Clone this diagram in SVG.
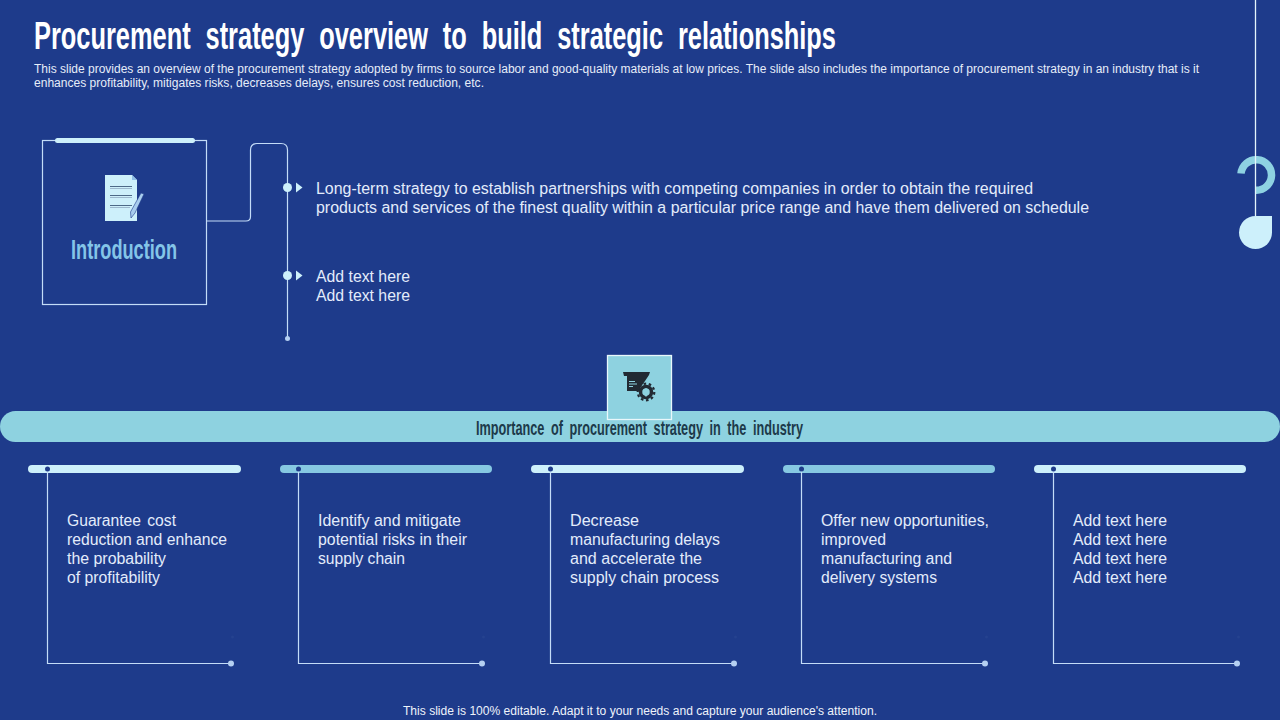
<svg xmlns="http://www.w3.org/2000/svg" width="1280" height="720" viewBox="0 0 1280 720">
<defs>
<style>
text{font-family:"Liberation Sans",Arial,sans-serif}
.cond{font-family:"Liberation Sans Narrow","Liberation Sans",Arial,sans-serif}
.b{font-size:16px;fill:#e3ecfb}
.s{font-size:12px;fill:#e6edf9}
.ln{fill:none;stroke:#c4dcf8;stroke-width:1.200}
.dot{fill:#b5d0f2}
.lt{fill:#cdf0fb}
.md{fill:#86c8e2}
.nk{fill:#1e3b8b}
.ic{fill:#222a33}
</style>
<g id="card-frame">
<path class="ln" d="M47.500 470V663.500H231"/>
<circle class="dot" cx="231" cy="663.500" r="3"/>
<circle cx="232.500" cy="637" r="1.500" fill="#25428f"/>
<circle class="nk" cx="47.500" cy="469" r="2.500"/>
</g>
</defs>
<rect width="1280" height="720" fill="#1e3b8b"/>
<text id="title" class="cond" x="34" y="49" font-size="39" font-weight="700" fill="#ffffff" word-spacing="12" textLength="802" lengthAdjust="spacingAndGlyphs">Procurement strategy overview to build strategic relationships</text>
<g id="subtitle">
<text class="s" x="34" y="73" textLength="1165" lengthAdjust="spacingAndGlyphs">This slide provides an overview of the procurement strategy adopted by firms to source labor and good-quality materials at low prices. The slide also includes the importance of procurement strategy in an industry that is it</text>
<text class="s" x="34" y="87" textLength="450" lengthAdjust="spacingAndGlyphs">enhances profitability, mitigates risks, decreases delays, ensures cost reduction, etc.</text>
</g>
<g id="decor">
<path d="M1241 173.500A15.300 15.300 0 1 1 1256 190.300" fill="none" stroke="#8ed2e2" stroke-width="7.500"/>
<line x1="1255.500" y1="0" x2="1255.500" y2="216" stroke="#e4f4fb" stroke-width="1.300"/>
<path class="lt" d="M1255.500 216H1272V232.500A16.500 16.500 0 1 1 1255.500 216Z"/>
</g>
<g id="connectors">
<path class="ln" d="M207 221H246Q250.500 221 250.500 216.500V150Q250.500 143.500 257 143.500H281Q287.500 143.500 287.500 150V338.500"/>
</g>
<g id="intro-node">
<rect x="42.500" y="140.500" width="164" height="164" fill="none" stroke="#c4dcf8" stroke-width="1.200"/>
<rect x="55" y="138" width="140" height="5" rx="2.500" class="lt"/>
<path class="lt" d="M105 175H132L137 180V221H105Z"/>
<path d="M132 175V180H137Z" fill="#8fbfe6"/>
<g stroke-width="1">
<g stroke="#4d6a88">
<line x1="110" y1="186.500" x2="132" y2="186.500"/>
<line x1="110" y1="195.500" x2="132" y2="195.500"/>
<line x1="110" y1="205.500" x2="132" y2="205.500"/>
</g>
<g stroke="#9db9cf">
<line x1="110" y1="188.500" x2="132" y2="188.500"/>
<line x1="110" y1="197.500" x2="132" y2="197.500"/>
<line x1="110" y1="207.500" x2="130" y2="207.500"/>
</g>
</g>
<path d="M144 194L135 213L131 218L130.500 212L141 193Z" fill="#a8cdee" stroke="#1e3b8b" stroke-width=".6"/>
<text class="cond" x="71" y="259" font-size="28" font-weight="700" fill="#84c5e8" textLength="106" lengthAdjust="spacingAndGlyphs">Introduction</text>
</g>
<g id="point-1">
<circle class="lt" cx="287.500" cy="187.500" r="4.500"/>
<path class="lt" d="M296 182.500L302.500 187.500L296 192.500Z"/>
<text class="b" x="316" y="194" textLength="717" lengthAdjust="spacingAndGlyphs">Long-term strategy to establish partnerships with competing companies in order to obtain the required</text>
<text class="b" x="316" y="213" textLength="773" lengthAdjust="spacingAndGlyphs">products and services of the finest quality within a particular price range and have them delivered on schedule</text>
</g>
<g id="point-2">
<circle class="lt" cx="287.500" cy="275.500" r="4.500"/>
<path class="lt" d="M296 270.500L302.500 275.500L296 280.500Z"/>
<text class="b" x="316" y="282" textLength="94" lengthAdjust="spacingAndGlyphs">Add text here</text>
<text class="b" x="316" y="301" textLength="94" lengthAdjust="spacingAndGlyphs">Add text here</text>
</g>
<circle class="dot" cx="287.500" cy="338.500" r="2.500"/>
<g id="importance-bar">
<rect x="0" y="411" width="1280" height="31" rx="15.500" fill="#8ed2e0"/>
<text class="cond" x="476" y="435" font-size="21" font-weight="700" fill="#1d3a4a" word-spacing="5" textLength="327" lengthAdjust="spacingAndGlyphs">Importance of procurement strategy in the industry</text>
</g>
<g id="importance-icon">
<rect x="607.500" y="355.500" width="64" height="64" fill="#8ed2e0" stroke="#e9f7fb" stroke-width="1.300"/>
<path class="ic" d="M623 372H650L649 375L645 381L640 388V391H627V376H624Z"/>
<g stroke="#8ed2e0" stroke-width="1"><line x1="629" y1="381.500" x2="635" y2="381.500"/><line x1="629" y1="384" x2="637" y2="384"/><line x1="629" y1="386.500" x2="633" y2="386.500"/></g>
<circle cx="646" cy="392" r="5.500" fill="none" stroke="#222a33" stroke-width="3.500"/>
<circle cx="646" cy="392" r="8.300" fill="none" stroke="#222a33" stroke-width="2.200" stroke-dasharray="2.600 2.600"/>
<path d="M646 388V396M644 393.500L646 396L648 393.500" fill="none" stroke="#8ed2e0" stroke-width="1.200"/>
</g>
<g id="card-1">
<rect x="28" y="465" width="213" height="8" rx="4" class="lt"/>
<use href="#card-frame"/>
<text class="b" x="67" y="526" word-spacing="2" textLength="109" lengthAdjust="spacingAndGlyphs">Guarantee cost</text>
<text class="b" x="67" y="545" textLength="160" lengthAdjust="spacingAndGlyphs">reduction and enhance</text>
<text class="b" x="67" y="564" textLength="99" lengthAdjust="spacingAndGlyphs">the probability</text>
<text class="b" x="67" y="583" textLength="93" lengthAdjust="spacingAndGlyphs">of profitability</text>
</g>
<g id="card-2">
<rect x="280" y="465" width="212" height="8" rx="4" class="md"/>
<use href="#card-frame" x="251"/>
<text class="b" x="318" y="526" textLength="143" lengthAdjust="spacingAndGlyphs">Identify and mitigate</text>
<text class="b" x="318" y="545" textLength="149" lengthAdjust="spacingAndGlyphs">potential risks in their</text>
<text class="b" x="318" y="564" textLength="87" lengthAdjust="spacingAndGlyphs">supply chain</text>
</g>
<g id="card-3">
<rect x="531" y="465" width="213" height="8" rx="4" class="lt"/>
<use href="#card-frame" x="503"/>
<text class="b" x="570" y="526" textLength="69" lengthAdjust="spacingAndGlyphs">Decrease</text>
<text class="b" x="570" y="545" textLength="150" lengthAdjust="spacingAndGlyphs">manufacturing delays</text>
<text class="b" x="570" y="564" textLength="132" lengthAdjust="spacingAndGlyphs">and accelerate the</text>
<text class="b" x="570" y="583" textLength="149" lengthAdjust="spacingAndGlyphs">supply chain process</text>
</g>
<g id="card-4">
<rect x="783" y="465" width="212" height="8" rx="4" class="md"/>
<use href="#card-frame" x="754"/>
<text class="b" x="821" y="526" textLength="168" lengthAdjust="spacingAndGlyphs">Offer new opportunities,</text>
<text class="b" x="821" y="545" textLength="65" lengthAdjust="spacingAndGlyphs">improved</text>
<text class="b" x="821" y="564" textLength="131" lengthAdjust="spacingAndGlyphs">manufacturing and</text>
<text class="b" x="821" y="583" textLength="116" lengthAdjust="spacingAndGlyphs">delivery systems</text>
</g>
<g id="card-5">
<rect x="1034" y="465" width="212" height="8" rx="4" class="lt"/>
<use href="#card-frame" x="1006"/>
<text class="b" x="1073" y="526" textLength="94" lengthAdjust="spacingAndGlyphs">Add text here</text>
<text class="b" x="1073" y="545" textLength="94" lengthAdjust="spacingAndGlyphs">Add text here</text>
<text class="b" x="1073" y="564" textLength="94" lengthAdjust="spacingAndGlyphs">Add text here</text>
<text class="b" x="1073" y="583" textLength="94" lengthAdjust="spacingAndGlyphs">Add text here</text>
</g>
<text id="footer" x="403" y="715" font-size="12" fill="#eef3fb" textLength="474" lengthAdjust="spacingAndGlyphs">This slide is 100% editable. Adapt it to your needs and capture your audience's attention.</text>
</svg>
